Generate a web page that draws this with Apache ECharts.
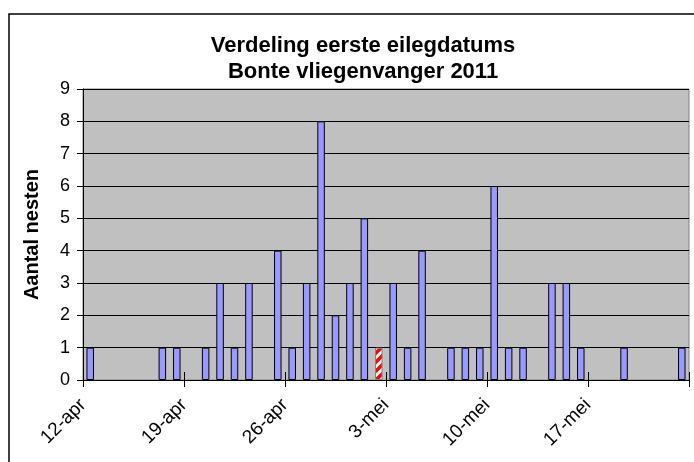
<!DOCTYPE html>
<html>
<head>
<meta charset="utf-8">
<script src="https://cdn.jsdelivr.net/npm/echarts@6/dist/echarts.min.js"></script>
<style>
  html, body { margin: 0; padding: 0; background: #fff; }
  #chart { width: 694px; height: 462px; }
</style>
</head>
<body>
<div id="chart"></div>
<script>
// one slot per day, 12-apr .. 23-mei
var days = [
  '12-apr', '13-apr', '14-apr', '15-apr', '16-apr', '17-apr', '18-apr',
  '19-apr', '20-apr', '21-apr', '22-apr', '23-apr', '24-apr', '25-apr',
  '26-apr', '27-apr', '28-apr', '29-apr', '30-apr', '1-mei', '2-mei',
  '3-mei', '4-mei', '5-mei', '6-mei', '7-mei', '8-mei', '9-mei',
  '10-mei', '11-mei', '12-mei', '13-mei', '14-mei', '15-mei', '16-mei',
  '17-mei', '18-mei', '19-mei', '20-mei', '21-mei', '22-mei', '23-mei'
];
var nests = [
  1, 0, 0, 0, 0, 1, 1,
  0, 1, 3, 1, 3, 0, 4,
  1, 3, 8, 2, 3, 5, 1,
  3, 1, 4, 0, 1, 1, 1,
  6, 1, 1, 0, 3, 3, 1,
  0, 0, 1, 0, 0, 0, 1
];
var stripedDays = ['2-mei'];
var yTicks = [0, 1, 2, 3, 4, 5, 6, 7, 8, 9];

var chart = echarts.init(document.getElementById('chart'));

// red/white diagonal hatch
var hatch = document.createElement('canvas');
hatch.width = 9;
hatch.height = 9;
var ctx = hatch.getContext('2d');
ctx.fillStyle = '#fff';
ctx.fillRect(0, 0, 9, 9);
ctx.strokeStyle = '#ff0000';
ctx.lineWidth = 3.5;
[0, 9, 18].forEach(function (k) {
  ctx.beginPath();
  ctx.moveTo(k + 2, -2);
  ctx.lineTo(k - 11, 11);
  ctx.stroke();
});

var barData = nests.map(function (v, i) {
  if (!v) return null;
  if (stripedDays.indexOf(days[i]) >= 0) {
    return {
      value: v,
      itemStyle: { color: { image: hatch, repeat: 'repeat' }, borderColor: '#808080' }
    };
  }
  return v;
});

var font = 'Liberation Sans, Arial, sans-serif';
var weekAxis = {
  type: 'value',
  min: 0,
  max: days.length,
  interval: 7,
  position: 'bottom',
  axisLine: { show: false },
  splitLine: { show: false },
  axisLabel: { show: false }
};

chart.setOption({
  animation: false,
  backgroundColor: '#fff',
  title: {
    text: 'Verdeling eerste eilegdatums\nBonte vliegenvanger 2011',
    left: 358,
    top: 28,
    textAlign: 'center',
    textStyle: {
      fontFamily: font,
      fontSize: 22,
      fontWeight: 'bold',
      color: '#000',
      lineHeight: 26
    }
  },
  graphic: [{
    type: 'rect',
    shape: { x: 9, y: 14, width: 720, height: 480 },
    style: { fill: null, stroke: '#000', lineWidth: 1.5 },
    silent: true
  }],
  grid: {
    left: 83,
    right: 5,
    top: 89,
    bottom: 82,
    show: true,
    backgroundColor: '#C0C0C0',
    borderColor: '#808080',
    borderWidth: 1
  },
  xAxis: [
    {
      type: 'category',
      data: days,
      boundaryGap: true,
      position: 'bottom',
      axisLine: { lineStyle: { color: '#000', width: 1 } },
      axisTick: { interval: 0, length: 4, lineStyle: { color: '#000' } },
      axisLabel: { show: false },
      splitLine: { show: false }
    },
    Object.assign({}, weekAxis, {
      axisTick: { show: true, length: 7, lineStyle: { color: '#000' } },
      axisLabel: {
        show: true,
        rotate: 45,
        margin: 22,
        fontFamily: font,
        fontSize: 19,
        color: '#000',
        formatter: function (v) { return days[v] || ''; }
      }
    }),
    Object.assign({}, weekAxis, {
      axisTick: { show: true, inside: true, length: 8, lineStyle: { color: '#000' } }
    })
  ],
  yAxis: {
    type: 'value',
    min: yTicks[0],
    max: yTicks[yTicks.length - 1],
    interval: 1,
    name: 'Aantal nesten',
    nameLocation: 'middle',
    nameGap: 41,
    nameTextStyle: { fontFamily: font, fontSize: 20, fontWeight: 'bold', color: '#000' },
    axisLine: { show: true, lineStyle: { color: '#000', width: 1 } },
    axisTick: { show: true, length: 6, lineStyle: { color: '#000' } },
    axisLabel: { margin: 13, fontFamily: font, fontSize: 18, color: '#000' },
    splitLine: { lineStyle: { color: '#000', width: 1 } }
  },
  series: [{
    type: 'bar',
    xAxisIndex: 0,
    data: barData,
    barWidth: '52%',
    itemStyle: { color: '#9999FF', borderColor: '#000', borderWidth: 1 }
  }]
});
</script>
</body>
</html>
